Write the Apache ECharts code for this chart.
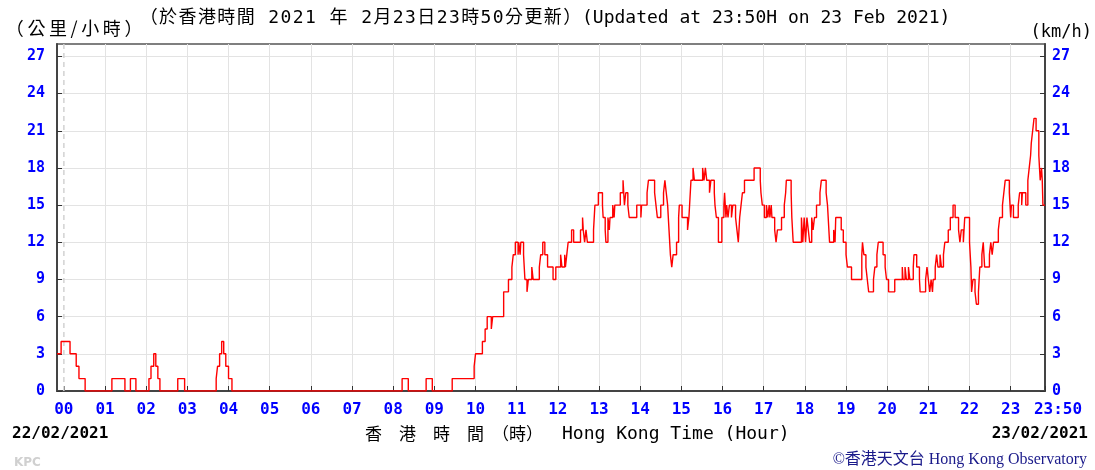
<!DOCTYPE html>
<html><head><meta charset="utf-8">
<script src="https://cdn.jsdelivr.net/npm/echarts@6/dist/echarts.min.js"></script>
<style>html,body{margin:0;padding:0;background:#fff}#c{width:1095px;height:470px}</style>
</head><body><div id="c"></div>
<script>
// Wind speed (km/h), step data: [minutes from 00:00 on 23/02, value held until next point]
const windSteps = [
[-10,3],[-4,4],[9,3],[18,2],[22,1],[31,0],
[70,1],[89,0],[97,1],[105,0],
[124,1],[127,2],[131,3],[134,2],[137,1],[140,0],
[166,1],[176,0],
[222,1],[224,2],[227,3],[230,4],[233,3],[236,2],[240,1],[245,0],
[493,1],[502,0],[528,1],[537,0],[566,1],[598,2],[600,3],[610,4],[614,5],[617,6],[623,5],[625,6],
[641,8],[648,9],[653,10],[655,11],[658,12],[662,11],[663,12],[665,11],[666,12],[670,11],[672,9],[675,8],[677,9],[682,10],[684,9],[693,10],[695,11],[698,12],[701,11],[705,10],[713,9],[717,10],[724,11],[726,10],[730,11],[731,10],[733,11],[735,12],[740,13],[743,12],
[753,13],[756,14],[757,13],[759,12],[761,13],[763,12],[772,13],[774,15],[779,16],[785,15],[786,14],[789,13],[790,12],[793,14],[795,13],[796,14],[800,15],[802,14],[803,15],[811,16],[815,17],[816,16],[817,15],[819,16],[822,15],[824,14],[835,15],[841,14],[842,15],[850,16],[852,17],[861,16],[863,15],[865,14],[870,15],[874,16],[876,17],[878,16],[880,15],[882,13],[884,11],[886,10],[888,11],[893,12],[896,14],[897,15],[901,14],[909,13],[911,14],[913,16],[914,17],[917,18],[919,17],[931,18],[933,17],[935,18],[937,17],[941,16],[943,17],[948,16],[949,15],[951,14],[954,12],
[959,14],[962,15],[963,16],[965,14],[966,15],[968,14],[970,15],[973,14],[975,15],[979,14],[981,13],[983,12],[985,14],[987,15],[989,16],[992,17],[1006,18],[1015,17],[1016,16],[1018,15],[1021,14],[1024,15],[1026,14],[1028,15],[1029,14],[1031,15],[1032,14],[1036,13],[1038,12],[1040,13],[1046,14],[1050,15],[1052,16],[1053,17],[1060,16],[1061,14],[1063,12],[1075,14],[1077,12],[1079,14],[1081,12],[1083,14],[1085,13],[1087,12],[1090,14],[1092,13],[1094,14],[1097,15],[1102,16],[1104,17],[1111,16],[1113,15],[1114,14],[1116,12],[1122,13],[1124,12],[1125,14],[1133,13],[1136,12],[1140,11],[1142,10],[1148,9],[1163,11],[1164,12],[1166,11],[1169,10],[1171,9],[1173,8],[1180,9],[1182,10],[1185,11],[1187,12],[1194,11],[1197,10],[1199,9],[1202,8],[1211,9],[1222,10],[1223,9],[1226,10],[1228,9],[1231,10],[1233,9],[1238,10],[1239,11],[1243,10],[1247,9],[1248,8],[1256,9],[1258,10],[1260,9],[1262,8],[1264,9],[1266,8],[1267,9],[1270,10],[1272,11],[1274,10],[1277,11],[1279,10],[1282,11],[1284,12],[1289,13],[1292,14],[1296,15],[1299,14],[1304,13],[1306,12],[1308,13],[1311,12],[1313,14],[1320,12],[1322,10],[1323,8],[1325,9],[1328,8],[1330,7],[1333,8],[1335,10],[1338,11],[1340,12],[1342,10],[1349,11],[1351,12],[1353,11],[1355,12],[1362,13],[1364,14],[1368,15],[1370,16],[1372,17],[1378,16],[1379,15],[1380,14],[1381,15],[1384,14],[1391,15],[1393,16],[1396,15],[1397,16],[1402,15],[1405,17],[1407,18],[1409,19],[1410,20],[1412,21],[1414,22],[1417,21],[1421,19],[1422,18],[1423,17],[1425,18],[1426,17],[1427,15],[1430,15]
];
const midnightLine = [[0,0],[0,28]];
const hourTickValues = [0,60,120,180,240,300,360,420,480,540,600,660,720,780,840,900,960,1020,1080,1140,1200,1260,1320,1380,1430];
const hourTickLabels = ['00','01','02','03','04','05','06','07','08','09','10','11','12','13','14','15','16','17','18','19','20','21','22','23','23:50'];
const gridHours = [60,120,180,240,300,360,420,480,540,600,660,720,780,840,900,960,1020,1080,1140,1200,1260,1320,1380];
const speedTicks = [0,3,6,9,12,15,18,21,24,27];

const chart = echarts.init(document.getElementById('c'), null, {renderer:'canvas'});
const mono = '"DejaVu Sans Mono", "Noto Sans CJK TC", monospace';
const blueLbl = {color:'#0000ff', fontWeight:'bold', fontFamily:mono, fontSize:15};
const axisDark = {color:'#444', width:2};
const gridGray = {color:'#e3e3e3', width:1};

function spaced(str, pad){
  return {
    text: str.split('').map(function(ch){ return '{c|' + ch + '}'; }).join(''),
    pad: pad
  };
}
function spacedText(x, y, str, font, pad, align){
  const s = spaced(str, pad);
  return {type:'text', x:x, y:y, style:{text:s.text, font:font, fill:'#000', align:align||'left', verticalAlign:'middle',
    rich:{c:{font:font, fill:'#000', padding:[0,pad,0,pad]}}}};
}

const option = {
  animation:false,
  backgroundColor:'#fff',
  grid:{left:57, right:50, top:44, bottom:79, show:true, borderColor:'#555', borderWidth:1.5, backgroundColor:'#fff'},
  xAxis:[
    {type:'value', min:-10, max:1430, position:'bottom',
     axisLine:{show:true, onZero:false, lineStyle:axisDark},
     axisTick:{show:true, inside:true, length:5, customValues:hourTickValues, lineStyle:{color:'#333', width:1}},
     axisLabel:{customValues:hourTickValues, margin:11, color:'#0000ff', fontWeight:'bold', fontFamily:mono, fontSize:16,
       formatter:function(v){ const i = hourTickValues.indexOf(v); const s = hourTickLabels[i]; return i === hourTickValues.length-1 ? '{m|'+s+'}' : s; },
       rich:{m:{color:'#0000ff', fontWeight:'bold', fontFamily:mono, fontSize:16, padding:[0,0,0,26]}}},
     splitLine:{show:false}},
    {type:'value', min:-10, max:1430, position:'bottom',
     axisLine:{show:false}, axisLabel:{show:false},
     axisTick:{show:false, customValues:gridHours},
     splitLine:{show:true, lineStyle:gridGray}}
  ],
  yAxis:[
    {type:'value', min:0, max:28, position:'left',
     axisLine:{show:true, onZero:false, lineStyle:axisDark},
     axisTick:{show:true, inside:true, length:5, customValues:speedTicks, lineStyle:{color:'#333', width:1}},
     axisLabel:Object.assign({customValues:speedTicks, margin:12}, blueLbl),
     splitLine:{show:true, lineStyle:gridGray}},
    {type:'value', min:0, max:28, position:'right',
     axisLine:{show:true, onZero:false, lineStyle:axisDark},
     axisTick:{show:true, inside:true, length:5, customValues:speedTicks, lineStyle:{color:'#333', width:1}},
     axisLabel:Object.assign({customValues:speedTicks, margin:7}, blueLbl),
     splitLine:{show:false}}
  ],
  series:[
    {type:'line', data:midnightLine, xAxisIndex:0, yAxisIndex:0, symbol:'none', silent:true, z:1,
     lineStyle:{color:'#d2d2d2', type:[5,4], width:1.5}},
    {type:'line', step:'end', data:windSteps, xAxisIndex:0, yAxisIndex:0,
     symbol:'none', showSymbol:false, z:5,
     lineStyle:{color:'#ff0000', width:1.4}}
  ],
  graphic:[
    spacedText(4, 28, '（公里/小時）', '18px "Noto Sans CJK TC"', 1.8),
    spacedText(139, 18, '（於香港時間 2021 年 2月23日23時50分更新）', '18px '+mono, 0.7),
    {type:'text', x:582, y:18, style:{text:'(Updated at 23:50H on 23 Feb 2021)', font:'18px '+mono, fill:'#000', align:'left', verticalAlign:'middle'}},
    {type:'text', x:1092, y:33, style:{text:'(km/h)', font:'17px '+mono, fill:'#000', align:'right', verticalAlign:'middle'}},
    {type:'text', x:12, y:434, style:{text:'22/02/2021', font:'bold 16px '+mono, fill:'#000', align:'left', verticalAlign:'middle'}},
    {type:'text', x:1088, y:434, style:{text:'23/02/2021', font:'bold 16px '+mono, fill:'#000', align:'right', verticalAlign:'middle'}},
    {type:'text', x:365, y:434, style:{text:'香　港　時　間', font:'17px "Noto Sans CJK TC"', fill:'#000', align:'left', verticalAlign:'middle'}},
    {type:'text', x:492, y:434, style:{text:'（時）', font:'17px "Noto Sans CJK TC"', fill:'#000', align:'left', verticalAlign:'middle'}},
    {type:'text', x:562, y:434, style:{text:'Hong Kong Time (Hour)', font:'18px '+mono, fill:'#000', align:'left', verticalAlign:'middle'}},
    {type:'text', x:14, y:463, style:{text:'KPC', font:'bold 12px "DejaVu Sans"', fill:'#d0d0d0', align:'left', verticalAlign:'middle'}},
    {type:'text', x:1087, y:460, style:{text:'©香港天文台 Hong Kong Observatory', font:'16px "Liberation Serif", "Noto Sans CJK TC", serif', fill:'#1a1a8a', align:'right', verticalAlign:'middle'}}
  ]
};
chart.setOption(option);
</script></body></html>
